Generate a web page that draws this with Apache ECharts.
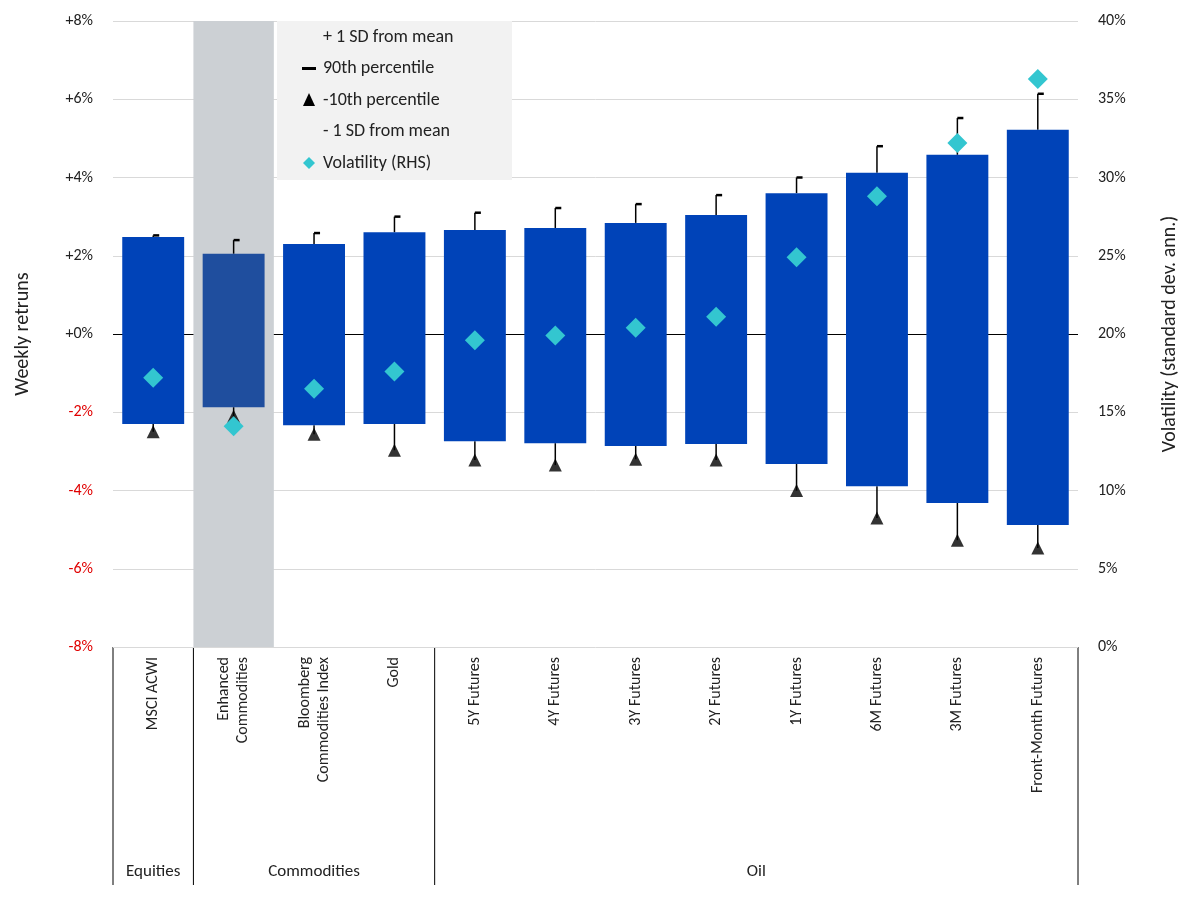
<!DOCTYPE html>
<html>
<head>
<meta charset="utf-8">
<title>Weekly returns</title>
<script src="https://cdn.jsdelivr.net/npm/echarts@6/dist/echarts.min.js"></script>
<style>
html,body{margin:0;padding:0;background:#fff;}
#main{width:1200px;height:900px;}
</style>
</head>
<body>
<div id="main"></div>
<script>
var categories = ['MSCI ACWI', 'Enhanced\nCommodities', 'Bloomberg\nCommodities Index', 'Gold', '5Y Futures', '4Y Futures', '3Y Futures', '2Y Futures', '1Y Futures', '6M Futures', '3M Futures', 'Front-Month Futures'];
var plusSD  = [2.48, 2.05, 2.30, 2.60, 2.66, 2.71, 2.84, 3.04, 3.60, 4.12, 4.58, 5.22];
var minusSD = [-2.30, -1.87, -2.33, -2.30, -2.74, -2.79, -2.86, -2.81, -3.32, -3.89, -4.32, -4.88];
var p90     = [2.52, 2.40, 2.58, 3.00, 3.10, 3.22, 3.32, 3.55, 4.00, 4.80, 5.52, 6.14];
var p10     = [-2.50, -2.10, -2.56, -2.97, -3.22, -3.35, -3.20, -3.22, -4.00, -4.70, -5.27, -5.47];
var vol     = [17.2, 14.1, 16.5, 17.6, 19.6, 19.9, 20.4, 21.1, 24.9, 28.8, 32.2, 36.3];
var groups = [{name: 'Equities', from: 0, to: 1}, {name: 'Commodities', from: 1, to: 4}, {name: 'Oil', from: 4, to: 12}];
var highlighted = 1;

var chart = echarts.init(document.getElementById('main'));
var font = 'Calibri, "Liberation Sans", "Noto Sans", sans-serif';
var L = 113, R = 1078, T = 21, B = 647;
var cw = (R - L) / categories.length;

var graphics = [];
// legend box
graphics.push({type: 'rect', shape: {x: 277, y: T, width: 235, height: 159}, style: {fill: '#f2f2f2'}, z: 1});
var legendItems = ['+ 1 SD from mean', '90th percentile', '-10th percentile', '- 1 SD from mean', 'Volatility (RHS)'];
legendItems.forEach(function (t, i) {
  graphics.push({type: 'text', x: 323, y: 37 + i * 31.5, style: {text: t, fill: '#222', font: '18px ' + font, verticalAlign: 'middle'}, z: 3});
});
graphics.push({type: 'rect', shape: {x: 302, y: 67, width: 14, height: 3}, style: {fill: '#000'}, z: 3});
graphics.push({type: 'polygon', shape: {points: [[309, 93], [303, 106], [315, 106]]}, style: {fill: '#000'}, z: 3});
graphics.push({type: 'polygon', shape: {points: [[309, 157], [315, 163], [309, 169], [303, 163]]}, style: {fill: '#33c6d0'}, z: 3});
// group separators and labels
[0, 1, 4, 12].forEach(function (k) {
  graphics.push({type: 'line', shape: {x1: L + k * cw, y1: B, x2: L + k * cw, y2: 885}, style: {stroke: '#000', lineWidth: 1}});
});
groups.forEach(function (g) {
  graphics.push({type: 'text', x: L + (g.from + g.to) / 2 * cw, y: 872, style: {text: g.name, fill: '#222', font: '17px ' + font, align: 'center', verticalAlign: 'middle'}});
});

var option = {
  animation: false,
  backgroundColor: '#fff',
  textStyle: {fontFamily: font},
  grid: {left: L, right: 1200 - R, top: T, bottom: 900 - B},
  graphic: graphics,
  xAxis: {
    type: 'category', data: categories,
    axisLine: {show: false}, axisTick: {show: false},
    axisLabel: {rotate: 90, color: '#222', fontSize: 16, margin: 10, interval: 0, lineHeight: 19, fontFamily: font}
  },
  yAxis: [{
    type: 'value', min: -8, max: 8, interval: 2,
    name: 'Weekly retruns', nameLocation: 'middle', nameGap: 80, nameRotate: 90,
    nameTextStyle: {fontSize: 20, color: '#222'},
    axisLine: {show: false}, axisTick: {show: false},
    axisLabel: {fontSize: 16, margin: 20, formatter: function (v) {
      var s = (v >= 0 ? '+' : '') + v + '%';
      return v < 0 ? '{n|' + s + '}' : '{p|' + s + '}';
    }, rich: {p: {color: '#222', fontSize: 16}, n: {color: '#e00000', fontSize: 16}}},
    splitLine: {lineStyle: {color: '#d9d9d9'}}
  }, {
    type: 'value', min: 0, max: 40, interval: 5,
    name: 'Volatility (standard dev. ann.)', nameLocation: 'middle', nameGap: 82, nameRotate: 90,
    nameTextStyle: {fontSize: 20, color: '#222'},
    axisLine: {show: false}, axisTick: {show: false},
    axisLabel: {fontSize: 16, color: '#222', margin: 20, formatter: '{value}%'},
    splitLine: {show: false}
  }],
  series: [{
    type: 'custom', z: 5,
    data: categories.map(function (c, i) { return [i, minusSD[i], plusSD[i], p10[i], p90[i]]; }),
    renderItem: function (params, api) {
      var i = api.value(0);
      var top = api.coord([i, api.value(2)]);
      var bot = api.coord([i, api.value(1)]);
      var lo = api.coord([i, api.value(3)]);
      var hi = api.coord([i, api.value(4)]);
      var cs = params.coordSys;
      var w = api.size([1, 0])[0] * 0.77;
      var full = api.size([1, 0])[0];
      var x = top[0];
      var kids = [];
      if (i === highlighted) {
        kids.push({type: 'rect', shape: {x: x - full / 2, y: cs.y, width: full, height: cs.height}, style: {fill: '#ccd0d4'}});
      }
      kids.push(
        {type: 'line', shape: {x1: x, y1: top[1], x2: x, y2: hi[1]}, style: {stroke: '#000', lineWidth: 1.5}},
        {type: 'line', shape: {x1: x, y1: hi[1], x2: x + 6, y2: hi[1]}, style: {stroke: '#000', lineWidth: 2.5}},
        {type: 'line', shape: {x1: x, y1: bot[1], x2: x, y2: lo[1]}, style: {stroke: '#000', lineWidth: 1.5}},
        {type: 'rect', shape: {x: x - w / 2, y: top[1], width: w, height: bot[1] - top[1]},
          style: {fill: i === highlighted ? '#1f4e9e' : '#0043b8'}}
      );
      return {type: 'group', children: kids};
    }
  }, {
    type: 'scatter', z: 6, symbol: 'triangle', symbolSize: 13,
    itemStyle: {color: '#000'},
    data: p10.map(function (v, i) { return [i, v]; }),
    markLine: {silent: true, symbol: 'none', label: {show: false}, lineStyle: {color: '#000', width: 1.2, type: 'solid'}, data: [{yAxis: 0}]}
  }, {
    type: 'scatter', z: 7, yAxisIndex: 1, symbol: 'diamond', symbolSize: 20,
    itemStyle: {color: '#33c6d0', opacity: 1},
    data: vol.map(function (v, i) { return [i, v]; })
  }]
};
chart.setOption(option);
</script>
</body>
</html>
